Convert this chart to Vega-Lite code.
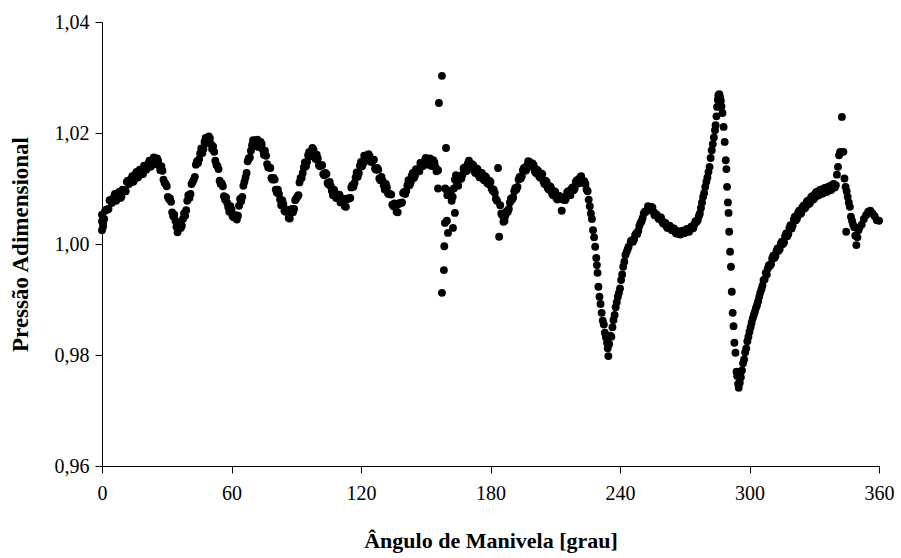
{
"$schema":"https://vega.github.io/schema/vega-lite/v6.json",
"width":777,"height":444,"autosize":"none",
"padding":{"left":102,"top":22,"right":22,"bottom":92},
"background":"white",
"config":{"view":{"stroke":null},"font":"Liberation Serif"},
"data":{"values":[
{"ang":0,"p":1.0041},{"ang":0,"p":1.0025},{"ang":0,"p":1.0053},{"ang":0.5,"p":1.0031},{"ang":1,"p":1.0045},{"ang":2,"p":1.0062},{"ang":3,"p":1.0063},{"ang":4,"p":1.0079},{"ang":5,"p":1.0078},{"ang":6,"p":1.009},{"ang":7,"p":1.0081},{"ang":8,"p":1.0094},{"ang":9,"p":1.0085},{"ang":10,"p":1.0097},
{"ang":11,"p":1.0095},{"ang":12,"p":1.0114},{"ang":13,"p":1.0111},{"ang":14,"p":1.0122},{"ang":15,"p":1.0116},{"ang":16,"p":1.013},{"ang":17,"p":1.0122},{"ang":18,"p":1.0132},{"ang":19,"p":1.0126},{"ang":20,"p":1.014},
{"ang":21,"p":1.0138},{"ang":22,"p":1.015},{"ang":23,"p":1.0142},{"ang":24,"p":1.0156},{"ang":25,"p":1.0145},{"ang":26,"p":1.015},{"ang":27,"p":1.0133},{"ang":28,"p":1.0132},{"ang":29,"p":1.011},{"ang":30,"p":1.0104},
{"ang":31,"p":1.0081},{"ang":32,"p":1.0076},{"ang":33,"p":1.005},{"ang":34,"p":1.0042},{"ang":35,"p":1.0021},{"ang":36,"p":1.0034},{"ang":37,"p":1.0033},{"ang":38,"p":1.0055},{"ang":39,"p":1.0061},{"ang":40,"p":1.0088},
{"ang":41,"p":1.009},{"ang":42,"p":1.0112},{"ang":43,"p":1.0121},{"ang":44,"p":1.0149},{"ang":45,"p":1.0153},{"ang":46,"p":1.0172},{"ang":47,"p":1.0171},{"ang":48,"p":1.0191},{"ang":49,"p":1.0185},{"ang":50,"p":1.019},
{"ang":51,"p":1.0171},{"ang":52,"p":1.0166},{"ang":53,"p":1.0143},{"ang":54,"p":1.0135},{"ang":55,"p":1.0108},{"ang":56,"p":1.0104},{"ang":57,"p":1.008},{"ang":58,"p":1.0074},{"ang":59,"p":1.0058},{"ang":60,"p":1.0062},
{"ang":61,"p":1.0048},{"ang":62,"p":1.0052},{"ang":63,"p":1.0051},{"ang":64,"p":1.0081},{"ang":65,"p":1.0085},{"ang":66,"p":1.0112},{"ang":67,"p":1.0128},{"ang":68,"p":1.0154},{"ang":69,"p":1.0168},{"ang":70,"p":1.0187},
{"ang":71,"p":1.0179},{"ang":72,"p":1.0188},{"ang":73,"p":1.0175},{"ang":74,"p":1.018},{"ang":75,"p":1.0161},{"ang":76,"p":1.0159},{"ang":77,"p":1.0138},{"ang":78,"p":1.0137},{"ang":79,"p":1.0116},{"ang":80,"p":1.0116},
{"ang":81,"p":1.0093},{"ang":82,"p":1.009},{"ang":83,"p":1.007},{"ang":84,"p":1.0072},{"ang":85,"p":1.0058},{"ang":86,"p":1.0062},{"ang":87,"p":1.0046},{"ang":88,"p":1.0063},{"ang":89,"p":1.0063},{"ang":90,"p":1.0082},
{"ang":91,"p":1.0088},{"ang":92,"p":1.0119},{"ang":93,"p":1.0128},{"ang":94,"p":1.0147},{"ang":95,"p":1.0148},{"ang":96,"p":1.0166},{"ang":97,"p":1.0163},{"ang":98,"p":1.017},{"ang":99,"p":1.0153},{"ang":100,"p":1.0154},
{"ang":101,"p":1.014},{"ang":102,"p":1.0142},{"ang":103,"p":1.0124},{"ang":104,"p":1.0126},{"ang":105,"p":1.0107},{"ang":106,"p":1.0104},{"ang":107,"p":1.0088},{"ang":108,"p":1.0092},{"ang":109,"p":1.0083},{"ang":110,"p":1.0089},
{"ang":111,"p":1.0076},{"ang":112,"p":1.0081},{"ang":113,"p":1.0067},{"ang":114,"p":1.0082},{"ang":115,"p":1.0083},{"ang":116,"p":1.0106},{"ang":117,"p":1.011},{"ang":118,"p":1.0129},{"ang":119,"p":1.0128},{"ang":120,"p":1.0148},
{"ang":121,"p":1.0145},{"ang":122,"p":1.0159},{"ang":123,"p":1.0151},{"ang":124,"p":1.0158},{"ang":125,"p":1.0148},{"ang":126,"p":1.0152},{"ang":127,"p":1.0134},{"ang":128,"p":1.0134},{"ang":129,"p":1.0115},{"ang":130,"p":1.0114},
{"ang":131,"p":1.0098},{"ang":132,"p":1.0102},{"ang":133,"p":1.009},{"ang":134,"p":1.0089},{"ang":135,"p":1.0068},{"ang":136,"p":1.0071},{"ang":137,"p":1.0057},{"ang":138,"p":1.0074},{"ang":139,"p":1.0075},{"ang":140,"p":1.0094},
{"ang":141,"p":1.0096},{"ang":142,"p":1.0115},{"ang":143,"p":1.0111},{"ang":144,"p":1.0128},{"ang":145,"p":1.0123},{"ang":146,"p":1.0134},{"ang":147,"p":1.0131},{"ang":148,"p":1.0146},{"ang":149,"p":1.0143},{"ang":150,"p":1.0155},
{"ang":151,"p":1.0146},{"ang":152,"p":1.0154},{"ang":153,"p":1.0141},{"ang":154,"p":1.0147},{"ang":155,"p":1.0131},{"ang":155.7,"p":1.0133},{"ang":155.7,"p":1.01},{"ang":156.1,"p":1.0254},{"ang":157.5,"p":1.0303},{"ang":159.4,"p":1.0173},
{"ang":157.5,"p":0.9912},{"ang":158.4,"p":0.9953},{"ang":158.6,"p":0.9996},{"ang":160.3,"p":1.002},{"ang":158.9,"p":1.0038},{"ang":162.6,"p":1.0029},{"ang":163.5,"p":1.0056},{"ang":159.8,"p":1.0042},
{"ang":159,"p":1.01},{"ang":160,"p":1.0088},{"ang":161,"p":1.0095},{"ang":162,"p":1.0078},{"ang":163,"p":1.01},{"ang":164,"p":1.0124},{"ang":165,"p":1.0105},{"ang":166,"p":1.0118},{"ang":167,"p":1.0125},{"ang":168,"p":1.0138},
{"ang":169,"p":1.0132},{"ang":170,"p":1.015},{"ang":171,"p":1.0138},{"ang":172,"p":1.0142},{"ang":173,"p":1.0128},{"ang":174,"p":1.0135},{"ang":175,"p":1.012},{"ang":176,"p":1.0128},{"ang":177,"p":1.0115},{"ang":178,"p":1.012},
{"ang":179,"p":1.0108},{"ang":180,"p":1.0112},{"ang":181,"p":1.0096},{"ang":182,"p":1.0092},{"ang":183,"p":1.0078},{"ang":183.5,"p":1.0137},{"ang":184,"p":1.0013},{"ang":184.5,"p":1.007},{"ang":185,"p":1.0055},{"ang":186,"p":1.004},
{"ang":187,"p":1.0052},{"ang":188,"p":1.0058},{"ang":189,"p":1.0075},{"ang":190,"p":1.008},{"ang":191,"p":1.0095},{"ang":192,"p":1.0098},{"ang":193,"p":1.0116},{"ang":194,"p":1.0118},{"ang":195,"p":1.0133},{"ang":196,"p":1.0132},
{"ang":197,"p":1.0142},{"ang":198,"p":1.0148},{"ang":199,"p":1.014},{"ang":200,"p":1.0142},{"ang":201,"p":1.0128},{"ang":202,"p":1.0132},{"ang":203,"p":1.012},{"ang":204,"p":1.0126},{"ang":205,"p":1.0108},{"ang":206,"p":1.0112},
{"ang":207,"p":1.0098},{"ang":208,"p":1.0102},{"ang":209,"p":1.0088},{"ang":210,"p":1.0094},{"ang":211,"p":1.008},{"ang":212,"p":1.0086},{"ang":213,"p":1.006},{"ang":213.5,"p":1.008},{"ang":214,"p":1.0084},{"ang":215,"p":1.0082},
{"ang":216,"p":1.0095},{"ang":217,"p":1.0088},{"ang":218,"p":1.0102},{"ang":219,"p":1.01},{"ang":220,"p":1.0115},{"ang":221,"p":1.011},{"ang":222,"p":1.0122},{"ang":223,"p":1.011},{"ang":224,"p":1.0108},
{"ang":225,"p":1.0095},{"ang":225.5,"p":1.008},{"ang":226,"p":1.0068},{"ang":226.5,"p":1.0055},{"ang":227,"p":1.0045},{"ang":227.5,"p":1.0025},{"ang":228,"p":1.0012},{"ang":228.5,"p":0.9995},{"ang":229,"p":0.9975},{"ang":229.3,"p":0.9962},
{"ang":229.6,"p":0.9948},{"ang":230,"p":0.9923},{"ang":230.5,"p":0.9905},{"ang":231,"p":0.9892},{"ang":231.5,"p":0.9876},{"ang":232,"p":0.9862},{"ang":232.5,"p":0.9855},{"ang":233,"p":0.984},{"ang":233.5,"p":0.9832},{"ang":234,"p":0.9822},
{"ang":234.3,"p":0.9812},{"ang":234.6,"p":0.9798},{"ang":235,"p":0.982},{"ang":235.5,"p":0.9835},{"ang":236,"p":0.9833},{"ang":236.5,"p":0.985},{"ang":237,"p":0.9863},{"ang":237.5,"p":0.9872},{"ang":238,"p":0.9886},{"ang":238.5,"p":0.9895},
{"ang":239,"p":0.9905},{"ang":239.5,"p":0.9912},{"ang":240,"p":0.992},{"ang":240.5,"p":0.9935},{"ang":241,"p":0.9945},{"ang":241.5,"p":0.9959},{"ang":242,"p":0.9968},{"ang":242.5,"p":0.998},{"ang":243,"p":0.9985},{"ang":243.5,"p":0.999},
{"ang":244,"p":0.9995},{"ang":245,"p":1.0005},{"ang":246,"p":1.0004},{"ang":247,"p":1.0016},{"ang":248,"p":1.0018},{"ang":249,"p":1.0033},{"ang":250,"p":1.0041},{"ang":251,"p":1.0055},{"ang":252,"p":1.0058},{"ang":253,"p":1.0068},
{"ang":254,"p":1.0064},{"ang":255,"p":1.0066},{"ang":256,"p":1.0052},{"ang":257,"p":1.0053},{"ang":258,"p":1.0045},{"ang":259,"p":1.0048},{"ang":260,"p":1.0037},{"ang":261,"p":1.0038},{"ang":262,"p":1.0029},{"ang":263,"p":1.0033},
{"ang":264,"p":1.0025},{"ang":265,"p":1.0028},{"ang":266,"p":1.0019},{"ang":267,"p":1.0023},{"ang":268,"p":1.0017},{"ang":269,"p":1.0024},{"ang":270,"p":1.002},{"ang":271,"p":1.0027},{"ang":272,"p":1.0022},{"ang":273,"p":1.0031},
{"ang":274,"p":1.0029},{"ang":275,"p":1.0041},{"ang":276,"p":1.0043},{"ang":277,"p":1.0055},{"ang":277.5,"p":1.0065},{"ang":278,"p":1.0075},{"ang":278.5,"p":1.0085},{"ang":279,"p":1.0092},{"ang":279.5,"p":1.0103},{"ang":280,"p":1.0112},
{"ang":280.5,"p":1.012},{"ang":281,"p":1.013},{"ang":281.5,"p":1.0139},{"ang":282,"p":1.0155},{"ang":282.5,"p":1.0169},{"ang":283,"p":1.018},{"ang":283.5,"p":1.0192},{"ang":284,"p":1.0205},{"ang":284.3,"p":1.0214},{"ang":284.7,"p":1.023},
{"ang":285,"p":1.0247},{"ang":285.3,"p":1.026},{"ang":285.6,"p":1.0268},{"ang":286,"p":1.027},{"ang":286.3,"p":1.0265},{"ang":286.7,"p":1.0258},{"ang":287,"p":1.0248},{"ang":287.5,"p":1.0236},{"ang":288,"p":1.0211},{"ang":288.5,"p":1.0184},
{"ang":289,"p":1.0151},{"ang":289.3,"p":1.0135},{"ang":289.6,"p":1.0103},{"ang":290,"p":1.0075},{"ang":290.3,"p":1.0056},{"ang":290.6,"p":1.0022},{"ang":291,"p":0.9986},{"ang":291.4,"p":0.9959},{"ang":291.8,"p":0.9914},{"ang":292.2,"p":0.9876},
{"ang":292.6,"p":0.9852},{"ang":293,"p":0.9822},{"ang":293.5,"p":0.9804},{"ang":294,"p":0.977},{"ang":294.3,"p":0.9762},{"ang":294.7,"p":0.9748},{"ang":295,"p":0.9741},{"ang":295.5,"p":0.975},{"ang":296,"p":0.976},{"ang":296.5,"p":0.9772},
{"ang":297,"p":0.9785},{"ang":297.5,"p":0.9792},{"ang":298,"p":0.9805},{"ang":298.5,"p":0.9812},{"ang":299,"p":0.9825},{"ang":299.5,"p":0.9833},{"ang":300,"p":0.9842},{"ang":300.5,"p":0.985},{"ang":301,"p":0.9858},{"ang":301.5,"p":0.9866},
{"ang":302,"p":0.9872},{"ang":302.5,"p":0.9878},{"ang":303,"p":0.9885},{"ang":303.5,"p":0.989},{"ang":304,"p":0.9897},{"ang":304.5,"p":0.9905},{"ang":305,"p":0.9912},{"ang":305.5,"p":0.9918},{"ang":306,"p":0.9925},{"ang":306.5,"p":0.9935},
{"ang":307,"p":0.9936},{"ang":307.5,"p":0.9948},{"ang":308,"p":0.9945},{"ang":309,"p":0.9962},{"ang":310,"p":0.9964},{"ang":311,"p":0.9979},{"ang":312,"p":0.9978},{"ang":313,"p":0.9992},{"ang":314,"p":0.9991},{"ang":315,"p":1.0004},
{"ang":316,"p":1.0003},{"ang":317,"p":1.0019},{"ang":318,"p":1.0018},{"ang":319,"p":1.0034},{"ang":320,"p":1.0034},{"ang":321,"p":1.0049},{"ang":322,"p":1.0046},{"ang":323,"p":1.006},{"ang":324,"p":1.0056},{"ang":325,"p":1.0069},
{"ang":326,"p":1.0066},{"ang":327,"p":1.0078},{"ang":328,"p":1.0074},{"ang":329,"p":1.0086},{"ang":330,"p":1.0082},{"ang":331,"p":1.0094},{"ang":332,"p":1.0088},{"ang":333,"p":1.0098},{"ang":334,"p":1.0091},{"ang":335,"p":1.0101},
{"ang":336,"p":1.0094},{"ang":337,"p":1.0104},{"ang":338,"p":1.0098},{"ang":339,"p":1.0108},{"ang":340,"p":1.0106},{"ang":340.5,"p":1.0125},{"ang":341,"p":1.0139},{"ang":341.5,"p":1.016},{"ang":342,"p":1.0166},{"ang":342.8,"p":1.0229},
{"ang":343.5,"p":1.0166},{"ang":344,"p":1.0118},{"ang":344.5,"p":1.0103},{"ang":344.8,"p":1.0022},{"ang":345,"p":1.0095},{"ang":345.5,"p":1.0085},{"ang":346,"p":1.0075},{"ang":346.5,"p":1.0067},{"ang":347,"p":1.0049},{"ang":347.5,"p":1.0042},
{"ang":348,"p":1.0035},{"ang":348.5,"p":1.003},{"ang":349,"p":1.0015},{"ang":349.5,"p":0.9998},{"ang":350,"p":1.0012},{"ang":350.5,"p":1.0025},{"ang":351,"p":1.003},{"ang":352,"p":1.0035},{"ang":353,"p":1.0045},{"ang":354,"p":1.0052},
{"ang":355,"p":1.0058},{"ang":356,"p":1.006},{"ang":357,"p":1.0055},{"ang":358,"p":1.005},{"ang":359,"p":1.0043},{"ang":360,"p":1.0042},
{"ang":0.5,"p":1.0037},{"ang":1.5,"p":1.006},{"ang":2.5,"p":1.0062},{"ang":3.5,"p":1.0079},{"ang":4.5,"p":1.0074},{"ang":5.5,"p":1.0085},{"ang":6.5,"p":1.0078},{"ang":7.5,"p":1.0091},{"ang":8.5,"p":1.0083},{"ang":9.5,"p":1.0098},
{"ang":10.5,"p":1.0096},{"ang":11.5,"p":1.0112},{"ang":12.5,"p":1.0108},{"ang":13.5,"p":1.0117},{"ang":14.5,"p":1.0112},{"ang":15.5,"p":1.0126},{"ang":16.5,"p":1.012},{"ang":17.5,"p":1.0134},{"ang":18.5,"p":1.0129},{"ang":19.5,"p":1.0141},
{"ang":20.5,"p":1.0134},{"ang":21.5,"p":1.0145},{"ang":22.5,"p":1.0139},{"ang":23.5,"p":1.0152},{"ang":24.5,"p":1.0144},{"ang":25.5,"p":1.0154},{"ang":26.5,"p":1.0141},{"ang":27.5,"p":1.014},{"ang":28.5,"p":1.0116},{"ang":29.5,"p":1.0108},
{"ang":30.5,"p":1.0085},{"ang":31.5,"p":1.0082},{"ang":32.5,"p":1.0057},{"ang":33.5,"p":1.0053},{"ang":34.5,"p":1.0031},{"ang":35.5,"p":1.0035},{"ang":36.5,"p":1.0029},{"ang":37.5,"p":1.0045},{"ang":38.5,"p":1.0051},{"ang":39.5,"p":1.0078},
{"ang":40.5,"p":1.0083},{"ang":41.5,"p":1.0108},{"ang":42.5,"p":1.0116},{"ang":43.5,"p":1.0143},{"ang":44.5,"p":1.0146},{"ang":45.5,"p":1.0163},{"ang":46.5,"p":1.0164},{"ang":47.5,"p":1.0184},{"ang":48.5,"p":1.0182},{"ang":49.5,"p":1.0194},
{"ang":50.5,"p":1.018},{"ang":51.5,"p":1.0176},{"ang":52.5,"p":1.015},{"ang":53.5,"p":1.014},{"ang":54.5,"p":1.0114},{"ang":55.5,"p":1.0109},{"ang":56.5,"p":1.0086},{"ang":57.5,"p":1.0084},{"ang":58.5,"p":1.0066},{"ang":59.5,"p":1.0068},
{"ang":60.5,"p":1.005},{"ang":61.5,"p":1.0051},{"ang":62.5,"p":1.0044},{"ang":63.5,"p":1.0069},{"ang":64.5,"p":1.0077},{"ang":65.5,"p":1.0105},{"ang":66.5,"p":1.012},{"ang":67.5,"p":1.0149},{"ang":68.5,"p":1.0156},{"ang":69.5,"p":1.0178},
{"ang":70.5,"p":1.0176},{"ang":71.5,"p":1.0187},{"ang":72.5,"p":1.0175},{"ang":73.5,"p":1.0184},{"ang":74.5,"p":1.017},{"ang":75.5,"p":1.0168},{"ang":76.5,"p":1.0144},{"ang":77.5,"p":1.0138},{"ang":78.5,"p":1.0119},{"ang":79.5,"p":1.0119},
{"ang":80.5,"p":1.0098},{"ang":81.5,"p":1.0098},{"ang":82.5,"p":1.008},{"ang":83.5,"p":1.0079},{"ang":84.5,"p":1.006},{"ang":85.5,"p":1.0061},{"ang":86.5,"p":1.0047},{"ang":87.5,"p":1.0058},{"ang":88.5,"p":1.0057},{"ang":89.5,"p":1.0079},
{"ang":90.5,"p":1.0085},{"ang":91.5,"p":1.0111},{"ang":92.5,"p":1.0119},{"ang":93.5,"p":1.0138},{"ang":94.5,"p":1.014},{"ang":95.5,"p":1.016},{"ang":96.5,"p":1.0158},{"ang":97.5,"p":1.0173},{"ang":98.5,"p":1.0161},{"ang":99.5,"p":1.0161},
{"ang":100.5,"p":1.0142},{"ang":101.5,"p":1.0142},{"ang":102.5,"p":1.0126},{"ang":103.5,"p":1.0128},{"ang":104.5,"p":1.011},{"ang":105.5,"p":1.0112},{"ang":106.5,"p":1.0096},{"ang":107.5,"p":1.0098},{"ang":108.5,"p":1.0083},{"ang":109.5,"p":1.0087},
{"ang":110.5,"p":1.0075},{"ang":111.5,"p":1.0082},{"ang":112.5,"p":1.0068},{"ang":113.5,"p":1.0081},{"ang":114.5,"p":1.0082},{"ang":115.5,"p":1.0102},{"ang":116.5,"p":1.0103},{"ang":117.5,"p":1.012},{"ang":118.5,"p":1.0121},{"ang":119.5,"p":1.0141},
{"ang":120.5,"p":1.014},{"ang":121.5,"p":1.0159},{"ang":122.5,"p":1.0155},{"ang":123.5,"p":1.0162},{"ang":124.5,"p":1.0148},{"ang":125.5,"p":1.0151},{"ang":126.5,"p":1.0136},{"ang":127.5,"p":1.0137},{"ang":128.5,"p":1.0118},{"ang":129.5,"p":1.0121},
{"ang":130.5,"p":1.0106},{"ang":131.5,"p":1.0108},{"ang":132.5,"p":1.0091},{"ang":133.5,"p":1.009},{"ang":134.5,"p":1.0071},{"ang":135.5,"p":1.0073},{"ang":136.5,"p":1.0058},{"ang":137.5,"p":1.0072},{"ang":138.5,"p":1.0074},{"ang":139.5,"p":1.0092},
{"ang":140.5,"p":1.009},{"ang":141.5,"p":1.0106},{"ang":142.5,"p":1.0106},{"ang":143.5,"p":1.0123},{"ang":144.5,"p":1.0119},{"ang":145.5,"p":1.0135},{"ang":146.5,"p":1.0132},{"ang":147.5,"p":1.0146},{"ang":148.5,"p":1.014},{"ang":149.5,"p":1.015},
{"ang":150.5,"p":1.0143},{"ang":151.5,"p":1.0153},{"ang":152.5,"p":1.0141},{"ang":153.5,"p":1.0151},{"ang":154.5,"p":1.0139},
{"ang":159.5,"p":1.0098},{"ang":160.5,"p":1.0088},{"ang":161.5,"p":1.0091},{"ang":162.5,"p":1.0085},{"ang":163.5,"p":1.0116},{"ang":164.5,"p":1.011},{"ang":165.5,"p":1.0116},{"ang":166.5,"p":1.0118},{"ang":167.5,"p":1.0136},{"ang":168.5,"p":1.0131},
{"ang":169.5,"p":1.0145},{"ang":170.5,"p":1.014},{"ang":171.5,"p":1.0144},{"ang":172.5,"p":1.0131},{"ang":173.5,"p":1.0136},{"ang":174.5,"p":1.0124},{"ang":175.5,"p":1.0128},{"ang":176.5,"p":1.0118},{"ang":177.5,"p":1.0122},{"ang":178.5,"p":1.011},
{"ang":179.5,"p":1.0114},{"ang":180.5,"p":1.01},{"ang":181.5,"p":1.0098},{"ang":182.5,"p":1.0081},{"ang":185.5,"p":1.0052},{"ang":186.5,"p":1.0042},{"ang":187.5,"p":1.0059},{"ang":188.5,"p":1.0063},{"ang":189.5,"p":1.0082},{"ang":190.5,"p":1.0084},
{"ang":191.5,"p":1.0101},{"ang":192.5,"p":1.0103},{"ang":193.5,"p":1.0121},{"ang":194.5,"p":1.0122},{"ang":195.5,"p":1.0137},{"ang":196.5,"p":1.0133},{"ang":197.5,"p":1.0149},{"ang":198.5,"p":1.014},{"ang":199.5,"p":1.0145},{"ang":200.5,"p":1.0131},
{"ang":201.5,"p":1.0134},{"ang":202.5,"p":1.0122},{"ang":203.5,"p":1.0127},{"ang":204.5,"p":1.0113},{"ang":205.5,"p":1.0114},{"ang":206.5,"p":1.0101},{"ang":207.5,"p":1.0104},{"ang":208.5,"p":1.0091},{"ang":209.5,"p":1.0095},{"ang":210.5,"p":1.0083},
{"ang":211.5,"p":1.0087},{"ang":212.5,"p":1.0082},{"ang":214.5,"p":1.0079},{"ang":215.5,"p":1.0093},{"ang":216.5,"p":1.0088},{"ang":217.5,"p":1.0099},{"ang":218.5,"p":1.0097},{"ang":219.5,"p":1.0112},{"ang":220.5,"p":1.0109},{"ang":221.5,"p":1.012},
{"ang":222.5,"p":1.0112},{"ang":223.5,"p":1.0113},{"ang":224.5,"p":1.0098},
{"ang":245.5,"p":1.0007},{"ang":246.5,"p":1.0008},{"ang":247.5,"p":1.0019},{"ang":248.5,"p":1.0024},{"ang":249.5,"p":1.0038},{"ang":250.5,"p":1.0047},{"ang":251.5,"p":1.0058},{"ang":252.5,"p":1.0061},{"ang":253.5,"p":1.0065},{"ang":254.5,"p":1.0067},
{"ang":255.5,"p":1.0058},{"ang":256.5,"p":1.0054},{"ang":257.5,"p":1.0048},{"ang":258.5,"p":1.0048},{"ang":259.5,"p":1.0041},{"ang":260.5,"p":1.0039},{"ang":261.5,"p":1.0032},{"ang":262.5,"p":1.0032},{"ang":263.5,"p":1.0028},{"ang":264.5,"p":1.0028},
{"ang":265.5,"p":1.0022},{"ang":266.5,"p":1.0022},{"ang":267.5,"p":1.0018},{"ang":268.5,"p":1.0022},{"ang":269.5,"p":1.002},{"ang":270.5,"p":1.0025},{"ang":271.5,"p":1.0023},{"ang":272.5,"p":1.0028},{"ang":273.5,"p":1.0028},{"ang":274.5,"p":1.0036},
{"ang":275.5,"p":1.004},{"ang":276.5,"p":1.005},
{"ang":308.5,"p":0.9956},{"ang":309.5,"p":0.9961},{"ang":310.5,"p":0.9974},{"ang":311.5,"p":0.9975},{"ang":312.5,"p":0.9987},{"ang":313.5,"p":0.9988},{"ang":314.5,"p":1.0001},{"ang":315.5,"p":1.0},{"ang":316.5,"p":1.0014},{"ang":317.5,"p":1.0014},
{"ang":318.5,"p":1.0029},{"ang":319.5,"p":1.0028},{"ang":320.5,"p":1.0044},{"ang":321.5,"p":1.0043},{"ang":322.5,"p":1.0056},{"ang":323.5,"p":1.0054},{"ang":324.5,"p":1.0066},{"ang":325.5,"p":1.0064},{"ang":326.5,"p":1.0076},{"ang":327.5,"p":1.0072},
{"ang":328.5,"p":1.0084},{"ang":329.5,"p":1.008},{"ang":330.5,"p":1.0091},{"ang":331.5,"p":1.0087},{"ang":332.5,"p":1.0097},{"ang":333.5,"p":1.0091},{"ang":334.5,"p":1.01},{"ang":335.5,"p":1.0094},{"ang":336.5,"p":1.0103},{"ang":337.5,"p":1.0097},
{"ang":338.5,"p":1.0107},{"ang":339.5,"p":1.0102}
]},
"mark":{"type":"point","filled":true,"color":"black","opacity":1,"size":62},
"encoding":{
"x":{"field":"ang","type":"quantitative",
"scale":{"domain":[0,360],"nice":false,"zero":false},
"axis":{"values":[0,60,120,180,240,300,360],"grid":false,"domainColor":"black","domainWidth":1,"tickColor":"black","tickSize":7,"labelFont":"Liberation Serif","labelFontSize":20,"labelColor":"black","labelPadding":10,"labelFlush":false,"labelOverlap":false,
"title":"Ângulo de Manivela [grau]","titleFont":"Liberation Serif","titleFontSize":22,"titleFontWeight":"bold","titleColor":"black","titleY":74,"titleBaseline":"middle"}},
"y":{"field":"p","type":"quantitative",
"scale":{"domain":[0.96,1.04],"nice":false,"zero":false},
"axis":{"values":[0.96,0.98,1,1.02,1.04],"labelExpr":"replace(format(datum.value,'.2f'),'.',',')","grid":false,"domainColor":"black","domainWidth":1,"tickColor":"black","tickSize":7,"labelFont":"Liberation Serif","labelFontSize":20,"labelColor":"black","labelPadding":6,"labelFlush":false,"labelOverlap":false,
"title":"Pressão Adimensional","titleFont":"Liberation Serif","titleFontSize":23,"titleFontWeight":"bold","titleColor":"black","titleX":-82,"titleBaseline":"middle"}}
}
}
